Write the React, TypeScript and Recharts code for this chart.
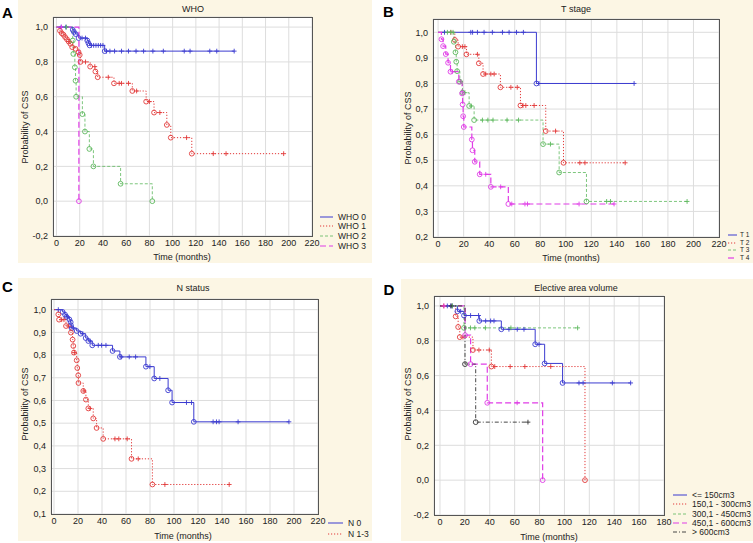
import React from 'react';
import { LineChart, Line, XAxis, YAxis, CartesianGrid } from 'recharts';

const FONT = "'Liberation Sans', Arial, sans-serif";
const BLUE = '#3b3bd0';
const RED = '#e23a3a';
const GREEN = '#5cb85c';
const MAGENTA = '#e03ce6';
const BLACK = '#333333';

// ---------- Panel A : WHO ----------
const who0EventT = [14, 15, 16.5, 19, 26.5, 27.5, 28.5, 41.5];
const who0EventS = [0.984, 0.972, 0.96, 0.937, 0.923, 0.908, 0.895, 0.862];
const who0CensorT = [4, 8, 22, 25, 30, 32, 34, 36, 38, 40, 43, 46, 50, 56, 62, 68.5, 75, 83, 92, 110, 115, 132, 138, 153];

const who1EventT = [3, 4.5, 6, 7.5, 9, 10.5, 12, 13.5, 16.5, 19, 20, 20.7, 29, 33.5, 35.5, 49.5, 65.3, 77.2, 84, 95, 98.4, 116.5];
const who1EventS = [0.979, 0.965, 0.956, 0.942, 0.93, 0.917, 0.904, 0.885, 0.875, 0.856, 0.84, 0.8, 0.773, 0.745, 0.712, 0.677, 0.633, 0.572, 0.509, 0.438, 0.365, 0.273];
const who1CensorT = [11, 25, 33, 44.6, 54, 56, 62, 69, 80, 89, 112, 135, 146, 195.6];

const who2EventT = [14, 14.5, 15.8, 16.4, 16.9, 22.3, 24.5, 28.3, 31.8, 55.2, 82.5];
const who2EventS = [0.923, 0.846, 0.769, 0.692, 0.6, 0.5, 0.4, 0.3, 0.2, 0.1, 0.0];
const who2CensorT = [8.6];

const who3EventT = [19.3];
const who3EventS = [0.0];
const who3CensorT = [4.3];

// ---------- Panel B : T stage ----------
const t1EventT = [77];
const t1EventS = [0.8];
const t1CensorT = [5, 25.6, 27, 30.8, 36, 42.5, 50.4, 55.6, 61.4, 66.8, 79, 153.5];

const t2EventT = [13.1, 15.7, 22.2, 31.9, 35.2, 48.8, 64.5, 84.3, 98.2];
const t2EventS = [0.97, 0.944, 0.914, 0.879, 0.837, 0.785, 0.714, 0.614, 0.49];
const t2CensorT = [10, 19, 21, 30.8, 37.3, 41.3, 43.9, 57, 62, 66.5, 68.7, 75.2, 92, 111, 115, 146.5];

const t3EventT = [12.3, 13.6, 14.2, 14.9, 17, 19.1, 24.3, 28.2, 82.2, 94.8, 116.2];
const t3EventS = [0.963, 0.922, 0.885, 0.848, 0.807, 0.764, 0.712, 0.657, 0.563, 0.452, 0.339];
const t3CensorT = [7.3, 9.9, 11.7, 17.5, 21, 26, 34.7, 39, 43, 54, 63, 88, 132, 135, 195];

const t4EventT = [2.6, 3.9, 6, 7.8, 9.7, 16.2, 18.8, 19.2, 19.6, 20.1, 26.4, 26.9, 28.7, 32.6, 41.3, 55];
const t4EventS = [0.973, 0.946, 0.915, 0.881, 0.846, 0.807, 0.761, 0.718, 0.672, 0.63, 0.581, 0.539, 0.494, 0.445, 0.396, 0.329];
const t4CensorT = [11, 37.3, 49, 57.7, 68, 70, 110.4, 137.8];

// ---------- Panel C : N status ----------
const n0EventT = [7.2, 9.2, 10.5, 12.8, 13.9, 14.1, 14.7, 18.9, 22.2, 26.4, 28.6, 31.9, 48.8, 54.9, 76.6, 83.5, 95.1, 98.4, 116.5];
const n0EventS = [0.99, 0.978, 0.968, 0.957, 0.945, 0.931, 0.919, 0.906, 0.894, 0.875, 0.862, 0.843, 0.818, 0.792, 0.749, 0.697, 0.645, 0.591, 0.506];
const n0CensorT = [3.6, 11, 16, 24, 30, 36.9, 39.7, 43.3, 56, 62.7, 68, 79.9, 88.2, 110.4, 114.6, 132.6, 135.4, 137.6, 153.4, 195.8];

const n13EventT = [3.6, 4.2, 10, 14.1, 15.5, 16.1, 16.6, 18.9, 19.4, 20.2, 20.4, 24.4, 26.6, 28.6, 32.7, 35.5, 41, 64.6, 82];
const n13EventS = [0.979, 0.956, 0.928, 0.899, 0.868, 0.84, 0.811, 0.777, 0.743, 0.711, 0.677, 0.642, 0.604, 0.565, 0.521, 0.479, 0.431, 0.343, 0.23];
const n13CensorT = [6.4, 8.3, 11.9, 17, 25, 30, 50.8, 54, 61, 70.2, 92.4, 146];

// ---------- Panel D : Elective area volume ----------
const v150EventT = [14, 19.3, 31.6, 49.3, 76.5, 84.1, 98.5];
const v150EventS = [0.969, 0.945, 0.914, 0.866, 0.78, 0.67, 0.558];
const v150CensorT = [5.9, 8.6, 9.9, 16.6, 24.6, 31, 36.7, 40.7, 43.4, 55.4, 62.1, 67.5, 79.6, 111.7, 115, 138.5, 153.2];

const v300EventT = [12.6, 14.6, 15.9, 26.5, 41.3, 116.5];
const v300EventS = [0.94, 0.879, 0.821, 0.747, 0.652, 0.0];
const v300CensorT = [3, 18.5, 31.3, 39.6, 44, 56.4, 68.2, 89];

const v450EventT = [19.3];
const v450EventS = [0.874];
const v450CensorT = [10, 24.5, 28, 36.5, 57, 110.6];

const v600EventT = [20.2, 24.6, 38, 82.5];
const v600EventS = [0.832, 0.666, 0.444, 0.0];
const v600CensorT = [3.2, 62];

const vBigEventT = [20.1, 28.7];
const vBigEventS = [0.666, 0.333];
const vBigCensorT = [9, 70.7];

// ---------- tick lists ----------
const xTicks220 = [0, 20, 40, 60, 80, 100, 120, 140, 160, 180, 200, 220];
const xTicks180 = [0, 20, 40, 60, 80, 100, 120, 140, 160, 180];
const yTicksA = [-0.2, 0, 0.2, 0.4, 0.6, 0.8, 1.0];
const yTicksB = [0.2, 0.3, 0.4, 0.5, 0.6, 0.7, 0.8, 0.9, 1.0];
const yTicksC = [0.1, 0.2, 0.3, 0.4, 0.5, 0.6, 0.7, 0.8, 0.9, 1.0];
const yTicksD = [-0.2, 0, 0.2, 0.4, 0.6, 0.8, 1.0];

type Series = {
  name: string;
  color: string;
  dash?: string;
  width: number;
  eventT: number[];
  eventS: number[];
  censorT: number[];
};

const STYLE = {
  blue: { color: BLUE, dash: undefined, width: 1 },
  red: { color: RED, dash: '1.2 1.8', width: 1 },
  green: { color: GREEN, dash: '3 2', width: 0.8 },
  magenta: { color: MAGENTA, dash: '6 3', width: 1.2 },
  black: { color: BLACK, dash: '4 2 1 2', width: 0.9 },
};

const mk = (name: string, st: any, eventT: number[], eventS: number[], censorT: number[]): Series => ({
  name, color: st.color, dash: st.dash, width: st.width, eventT, eventS, censorT,
});

const seriesA: Series[] = [
  mk('WHO 0', STYLE.blue, who0EventT, who0EventS, who0CensorT),
  mk('WHO 1', STYLE.red, who1EventT, who1EventS, who1CensorT),
  mk('WHO 2', STYLE.green, who2EventT, who2EventS, who2CensorT),
  mk('WHO 3', STYLE.magenta, who3EventT, who3EventS, who3CensorT),
];
const seriesB: Series[] = [
  mk('T 1', STYLE.blue, t1EventT, t1EventS, t1CensorT),
  mk('T 2', STYLE.red, t2EventT, t2EventS, t2CensorT),
  mk('T 3', STYLE.green, t3EventT, t3EventS, t3CensorT),
  mk('T 4', STYLE.magenta, t4EventT, t4EventS, t4CensorT),
];
const seriesC: Series[] = [
  mk('N 0', STYLE.blue, n0EventT, n0EventS, n0CensorT),
  mk('N 1-3', STYLE.red, n13EventT, n13EventS, n13CensorT),
];
const seriesD: Series[] = [
  mk('<= 150cm3', STYLE.blue, v150EventT, v150EventS, v150CensorT),
  mk('150,1 - 300cm3', STYLE.red, v300EventT, v300EventS, v300CensorT),
  mk('300,1 - 450cm3', STYLE.green, v450EventT, v450EventS, v450CensorT),
  mk('450,1 - 600cm3', STYLE.magenta, v600EventT, v600EventS, v600CensorT),
  mk('> 600cm3', STYLE.black, vBigEventT, vBigEventS, vBigCensorT),
];

function kmPoints(sr: Series) {
  const pts: { t: number; s: number; k: string }[] = [{ t: 0, s: 1, k: 'start' }];
  sr.eventT.forEach((t, i) => pts.push({ t, s: sr.eventS[i], k: 'event' }));
  sr.censorT.forEach((t) => {
    let s = 1;
    sr.eventT.forEach((et, i) => {
      if (et <= t) s = sr.eventS[i];
    });
    pts.push({ t, s, k: 'censor' });
  });
  pts.sort((a, b) => a.t - b.t);
  return pts;
}

const makeDot = (color: string) => (props: any) => {
  const { cx, cy, payload, index } = props;
  const key = `dot-${index}`;
  if (cx == null || cy == null) return <g key={key} />;
  if (payload.k === 'event') {
    return <circle key={key} cx={cx} cy={cy} r={2.4} fill="none" stroke={color} strokeWidth={0.9} />;
  }
  if (payload.k === 'censor') {
    return (
      <path key={key} d={`M${cx - 2.4},${cy}h4.8M${cx},${cy - 2.4}v4.8`} stroke={color} strokeWidth={0.9} fill="none" />
    );
  }
  return <g key={key} />;
};

const fmtComma = (v: number) => v.toFixed(1).replace('.', ',');

type PanelProps = {
  L: number; T: number; R: number; B: number;
  xDomain: [number, number]; xTicks: number[];
  yDomain: [number, number]; yTicks: number[];
  series: Series[];
};

const RM = 14;

function Panel({ L, T, R, B, xDomain, xTicks, yDomain, yTicks, series }: PanelProps) {
  const chartLeft = L - 40;
  const chartTop = T - 5;
  const width = R + RM - chartLeft;
  const height = B + 25 - chartTop;
  const tickStyle = { fontSize: 9, fill: '#222', fontFamily: FONT };
  return (
    <div style={{ position: 'absolute', left: chartLeft, top: chartTop, width, height }}>
      <LineChart width={width} height={height} margin={{ top: 5, right: RM, bottom: 0, left: 0 }}>
        <CartesianGrid fill="#ffffff" stroke="#dddddd" strokeWidth={1} />
        <XAxis
          type="number"
          dataKey="t"
          domain={xDomain}
          ticks={xTicks}
          allowDataOverflow
          interval={0}
          tickLine={false}
          axisLine={false}
          tickSize={0}
          tickMargin={4}
          height={25}
          tick={tickStyle}
        />
        <YAxis
          type="number"
          domain={yDomain}
          ticks={yTicks}
          allowDataOverflow
          interval={0}
          width={40}
          tickLine={false}
          axisLine={false}
          tickSize={0}
          tickMargin={5}
          tickFormatter={fmtComma}
          tick={tickStyle}
        />
        {series.map((sr) => (
          <Line
            key={sr.name}
            name={sr.name}
            data={kmPoints(sr)}
            dataKey="s"
            type="stepAfter"
            stroke={sr.color}
            strokeWidth={sr.width}
            strokeDasharray={sr.dash}
            dot={makeDot(sr.color)}
            activeDot={false}
            isAnimationActive={false}
          />
        ))}
      </LineChart>
      <div
        style={{
          position: 'absolute',
          left: 40,
          top: 5,
          width: R - L + 1,
          height: B - T + 1,
          border: '1px solid #555',
          boxSizing: 'border-box',
          pointerEvents: 'none',
        }}
      />
    </div>
  );
}

function Txt({ x, y, children, size = 9, rotate = 0, bold = false, color = '#222' }: any) {
  return (
    <div
      style={{
        position: 'absolute',
        left: x,
        top: y,
        transform: `translate(-50%, -50%) rotate(${rotate}deg)`,
        fontFamily: FONT,
        fontSize: size,
        fontWeight: bold ? 700 : 400,
        color,
        whiteSpace: 'nowrap',
        lineHeight: 1,
      }}
    >
      {children}
    </div>
  );
}

function Legend({ x, y, step, lineLen, gap, size, series }: any) {
  return (
    <>
      {series.map((sr: Series, i: number) => (
        <React.Fragment key={sr.name}>
          <svg
            style={{ position: 'absolute', left: x, top: y + i * step - 2, overflow: 'visible' }}
            width={lineLen}
            height={4}
          >
            <line x1={0} y1={2} x2={lineLen} y2={2} stroke={sr.color} strokeWidth={sr.width} strokeDasharray={sr.dash} />
          </svg>
          <div
            style={{
              position: 'absolute',
              left: x + lineLen + gap,
              top: y + i * step,
              transform: 'translateY(-50%)',
              fontFamily: FONT,
              fontSize: size,
              color: '#222',
              whiteSpace: 'nowrap',
              lineHeight: 1,
            }}
          >
            {sr.name}
          </div>
        </React.Fragment>
      ))}
    </>
  );
}

const CREAM = '#fcf6e4';

export default function App() {
  return (
    <div style={{ position: 'absolute', left: 0, top: 0, width: 753, height: 543, background: '#fff', overflow: 'hidden' }}>
      {/* cream backgrounds */}
      <div style={{ position: 'absolute', left: 18, top: 0, width: 354, height: 263, background: CREAM }} />
      <div style={{ position: 'absolute', left: 400, top: 0, width: 353, height: 263, background: CREAM }} />
      <div style={{ position: 'absolute', left: 18, top: 278, width: 354, height: 263, background: CREAM }} />
      <div style={{ position: 'absolute', left: 401, top: 279, width: 352, height: 262, background: CREAM }} />

      {/* Panel A */}
      <Panel L={53} T={17} R={312} B={236} xDomain={[-3, 220]} xTicks={xTicks220} yDomain={[-0.2, 1.058]} yTicks={yTicksA} series={seriesA} />
      <Txt x={7.5} y={11.5} size={15} bold color="#000">A</Txt>
      <Txt x={193} y={9}>WHO</Txt>
      <Txt x={182} y={257}>Time (months)</Txt>
      <Txt x={25} y={127} rotate={-90}>Probability of CSS</Txt>
      <Legend x={320} y={216.7} step={9.7} lineLen={13} gap={5} size={8.5} series={seriesA} />

      {/* Panel B */}
      <Panel L={433} T={19} R={719} B={237} xDomain={[-4, 220]} xTicks={xTicks220} yDomain={[0.2, 1.052]} yTicks={yTicksB} series={seriesB} />
      <Txt x={388.5} y={11} size={15} bold color="#000">B</Txt>
      <Txt x={576} y={9}>T stage</Txt>
      <Txt x={571} y={257.5}>Time (months)</Txt>
      <Txt x={407.5} y={128} rotate={-90}>Probability of CSS</Txt>
      <Legend x={728} y={235} step={7.6} lineLen={9} gap={3} size={6.5} series={seriesB} />

      {/* Panel C */}
      <Panel L={51} T={299} R={318} B={514} xDomain={[-2.5, 220]} xTicks={xTicks220} yDomain={[0.1, 1.047]} yTicks={yTicksC} series={seriesC} />
      <Txt x={7.5} y={286} size={15} bold color="#000">C</Txt>
      <Txt x={193} y={288}>N status</Txt>
      <Txt x={183} y={536}>Time (months)</Txt>
      <Txt x={25} y={404} rotate={-90}>Probability of CSS</Txt>
      <Legend x={328} y={523.3} step={11} lineLen={15} gap={5} size={8.5} series={seriesC} />

      {/* Panel D */}
      <Panel L={434} T={296} R={664} B={515} xDomain={[-4.8, 180]} xTicks={xTicks180} yDomain={[-0.2, 1.057]} yTicks={yTicksD} series={seriesD} />
      <Txt x={389} y={289} size={15} bold color="#000">D</Txt>
      <Txt x={576} y={288}>Elective area volume</Txt>
      <Txt x={549} y={536.5}>Time (months)</Txt>
      <Txt x={407.5} y={404} rotate={-90}>Probability of CSS</Txt>
      <Legend x={673} y={495} step={9.3} lineLen={14} gap={5} size={8.5} series={seriesD} />
    </div>
  );
}
